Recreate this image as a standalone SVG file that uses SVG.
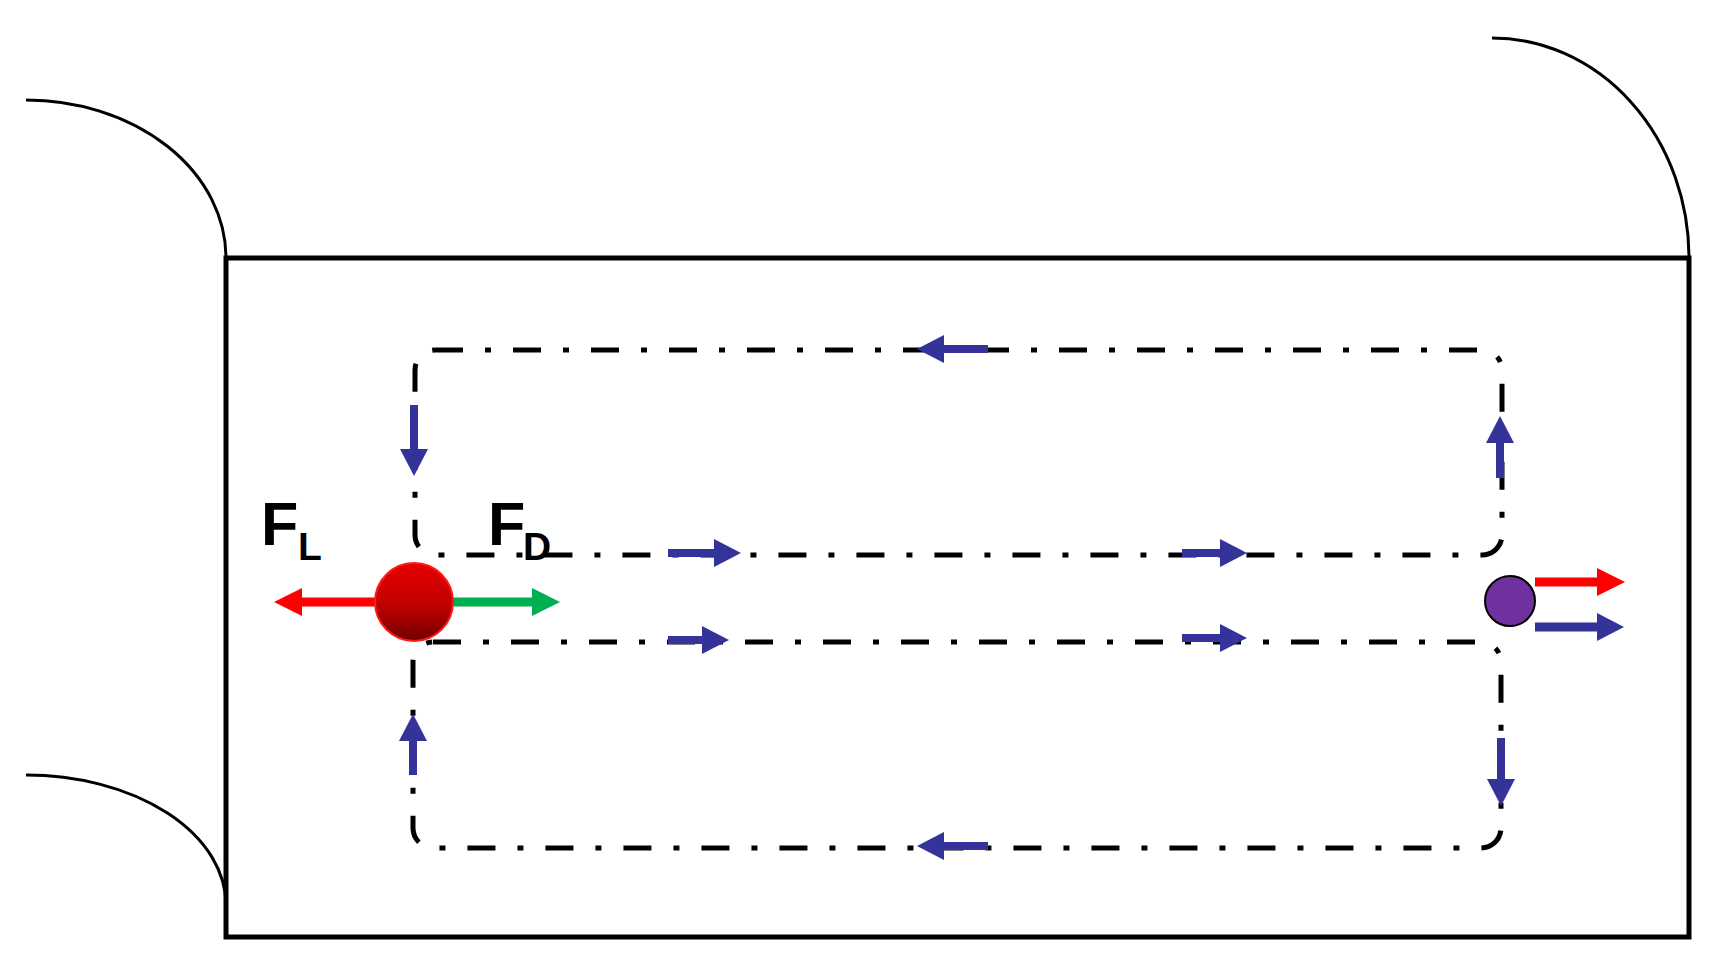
<svg xmlns="http://www.w3.org/2000/svg" width="1712" height="962" viewBox="0 0 1712 962">
<defs>
<style>
.wall{fill:none;stroke:#000;stroke-width:3}
.box{fill:none;stroke:#000;stroke-width:5}
.loop{fill:none;stroke:#000;stroke-width:5;stroke-dasharray:28 22 6 22}
.flow{stroke:#333399;stroke-width:8;fill:none;marker-end:url(#hb)}
.lab{font-family:"Liberation Sans",Arial,sans-serif;font-weight:bold;fill:#000}
</style>
<marker id="hb" markerUnits="userSpaceOnUse" markerWidth="30" markerHeight="30" refX="1" refY="14" orient="auto"><path d="M0,0 L27,14 L0,28 z" fill="#333399"/></marker>
<marker id="hr" markerUnits="userSpaceOnUse" markerWidth="30" markerHeight="30" refX="1" refY="14" orient="auto"><path d="M0,0 L28,14 L0,28 z" fill="#ff0000"/></marker>
<marker id="hg" markerUnits="userSpaceOnUse" markerWidth="30" markerHeight="30" refX="1" refY="14" orient="auto"><path d="M0,0 L28,14 L0,28 z" fill="#00b050"/></marker>
<linearGradient id="rg" x1="0" y1="0" x2="0" y2="1">
<stop offset="0" stop-color="#e80000"/>
<stop offset="0.55" stop-color="#c00000"/>
<stop offset="1" stop-color="#700000"/>
</linearGradient>
</defs>
<rect width="1712" height="962" fill="#fff"/>
<g id="channel">
<path class="wall" d="M26,100 A200,158 0 0 1 226,258"/>
<path class="wall" d="M1492,38 A197,220 0 0 1 1689,258"/>
<path class="wall" d="M26,775 A200,130 0 0 1 226,905"/>
<rect class="box" x="226" y="258" width="1463" height="679"/>
</g>
<g id="connectors">
<rect class="loop" x="415" y="350" width="1087" height="205" rx="20"/>
<rect class="loop" x="413" y="642" width="1088" height="206" rx="20"/>
<line class="flow" x1="988" y1="349" x2="943" y2="349"/>
<line class="flow" x1="414" y1="405" x2="414" y2="450"/>
<line class="flow" x1="1500" y1="478" x2="1500" y2="442"/>
<line class="flow" x1="668" y1="553" x2="715" y2="553"/>
<line class="flow" x1="1182" y1="553" x2="1221" y2="553"/>
<line class="flow" x1="668" y1="640" x2="703" y2="640"/>
<line class="flow" x1="1182" y1="638" x2="1221" y2="638"/>
<line class="flow" x1="413" y1="775" x2="413" y2="740"/>
<line class="flow" x1="1501" y1="738" x2="1501" y2="780"/>
<line class="flow" x1="988" y1="846" x2="943" y2="846"/>
<line x1="400" y1="602" x2="301" y2="602" stroke="#ff0000" stroke-width="9" marker-end="url(#hr)"/>
<line x1="430" y1="602" x2="533" y2="602" stroke="#00b050" stroke-width="9" marker-end="url(#hg)"/>
<line x1="1535" y1="582" x2="1598" y2="582" stroke="#ff0000" stroke-width="9" marker-end="url(#hr)"/>
<line x1="1535" y1="627" x2="1598" y2="627" stroke="#333399" stroke-width="9" marker-end="url(#hb)"/>
</g>
<g id="particle-red">
<circle cx="414" cy="602" r="39" fill="url(#rg)" stroke="#ff1a1a" stroke-width="2"/>
</g>
<g id="particle-purple">
<circle cx="1510" cy="601" r="25" fill="#7030a0" stroke="#000" stroke-width="2"/>
</g>
<g id="label-FL">
<text class="lab" x="261" y="545" font-size="61">F</text>
<text class="lab" x="298" y="560" font-size="39">L</text>
</g>
<g id="label-FD">
<text class="lab" x="488" y="545" font-size="61">F</text>
<text class="lab" x="523" y="560" font-size="39">D</text>
</g>
</svg>
